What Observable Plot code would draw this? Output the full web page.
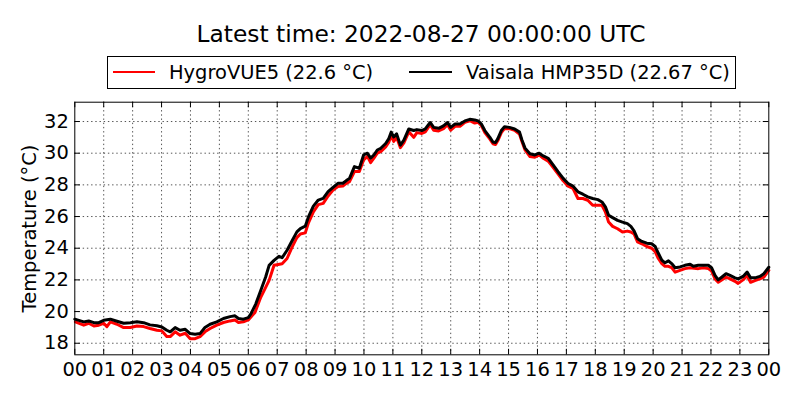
<!DOCTYPE html>
<html>
<head>
<meta charset="utf-8">
<script src="https://cdn.jsdelivr.net/npm/d3@7"></script>
<script src="https://cdn.jsdelivr.net/npm/@observablehq/plot@0.6"></script>
<style>
  html, body { margin: 0; padding: 0; background: white; }
  #wrap { position: relative; width: 800px; height: 400px; font-family: "DejaVu Sans", sans-serif; color: black; }
  #wrap svg { position: absolute; left: 0; top: 0; }
  .ov { position: absolute; white-space: nowrap; line-height: 1; }
</style>
</head>
<body>
<div id="wrap"></div>
<script>
// ---- Data ----
const titleText = "Latest time: 2022-08-27 00:00:00 UTC";
const seriesNames = ["HygroVUE5 (22.6 °C)", "Vaisala HMP35D (22.67 °C)"];
const seriesColors = ["red", "black"];
const yLabel = "Temperature (°C)";
const xTickValues = [0,1,2,3,4,5,6,7,8,9,10,11,12,13,14,15,16,17,18,19,20,21,22,23,24];
const xTickLabels = ["00","01","02","03","04","05","06","07","08","09","10","11","12","13","14","15","16","17","18","19","20","21","22","23","00"];
const yTickValues = [18,20,22,24,26,28,30,32];

// Vaisala HMP35D (black)
const vaisalaHours = [0.00,0.31,0.48,0.66,0.83,1.00,1.23,1.46,1.69,1.92,2.15,2.38,2.60,2.84,3.01,3.18,3.30,3.47,3.64,3.82,3.99,4.16,4.33,4.50,4.68,4.91,5.14,5.37,5.54,5.66,5.83,6.00,
 6.09,6.26,6.43,6.60,6.72,6.89,7.06,7.17,7.34,7.51,7.68,7.80,7.97,8.08,8.25,8.42,8.59,8.76,8.93,9.10,9.27,9.39,9.50,9.67,9.84,9.99,
 10.12,10.23,10.35,10.46,10.58,10.75,10.86,10.94,11.03,11.13,11.26,11.38,11.55,11.72,11.83,12.00,12.12,12.29,12.41,12.58,12.75,12.89,13.00,13.15,13.32,13.49,13.66,13.83,13.95,
 14.06,14.18,14.35,14.46,14.55,14.63,14.75,14.86,15.03,15.21,15.38,15.46,15.57,15.74,15.91,16.06,16.20,16.37,16.54,16.71,16.89,17.06,17.23,17.40,17.57,17.74,17.91,
 18.09,18.23,18.35,18.46,18.60,18.77,18.94,19.11,19.23,19.34,19.46,19.61,19.78,19.95,20.07,20.18,20.30,20.41,20.53,20.64,20.76,20.93,21.10,21.28,21.39,21.56,21.74,21.91,
 22.02,22.14,22.25,22.37,22.52,22.66,22.83,22.94,23.11,23.25,23.37,23.52,23.69,23.83,24.00];
const vaisalaTemps = [19.52,19.35,19.41,19.30,19.30,19.45,19.52,19.39,19.26,19.30,19.35,19.30,19.16,19.10,19.03,18.82,18.72,18.99,18.82,18.88,18.61,18.57,18.61,18.99,19.20,19.35,19.56,19.68,19.73,19.56,19.52,19.62,
 19.85,20.49,21.33,22.18,22.92,23.23,23.49,23.40,23.87,24.46,25.03,25.24,25.39,25.98,26.66,27.04,27.15,27.57,27.84,28.10,28.10,28.27,28.41,29.15,29.05,29.90,
 30.00,29.69,29.90,30.20,30.31,30.61,30.92,31.33,31.02,31.22,30.51,30.82,31.53,31.43,31.49,31.43,31.53,31.94,31.63,31.57,31.73,31.94,31.63,31.84,31.84,32.04,32.14,32.10,32.04,
 31.84,31.43,31.02,30.71,30.67,30.92,31.43,31.67,31.63,31.53,31.33,30.85,30.32,29.96,29.89,30.00,29.83,29.68,29.26,28.83,28.41,28.09,27.92,27.56,27.41,27.24,27.14,
 27.07,26.92,26.61,26.08,25.93,25.76,25.65,25.55,25.38,25.10,24.60,24.43,24.32,24.28,24.11,23.68,23.25,23.08,23.20,23.03,22.77,22.82,22.92,22.99,22.86,22.92,22.92,22.92,
 22.77,22.28,22.00,22.17,22.39,22.28,22.13,22.06,22.22,22.49,22.13,22.13,22.22,22.39,22.80];

// HygroVUE5 (red)
const hygroHours = [0.02,0.31,0.48,0.66,0.83,1.00,1.11,1.23,1.46,1.69,1.92,2.15,2.38,2.60,2.84,3.01,3.18,3.30,3.47,3.64,3.82,3.99,4.16,4.33,4.50,4.68,4.91,5.14,5.37,5.54,5.66,5.83,6.00,6.23,
 6.43,6.72,6.89,7.17,7.34,7.51,7.68,7.80,7.97,8.08,8.25,8.42,8.59,8.76,8.93,9.10,9.27,9.39,9.50,9.67,9.84,9.99,
 10.12,10.23,10.35,10.46,10.58,10.75,10.86,10.94,11.03,11.13,11.26,11.38,11.55,11.72,11.83,12.00,12.12,12.29,12.41,12.58,12.75,12.89,13.00,13.15,13.32,13.49,13.66,13.83,13.95,
 14.06,14.18,14.35,14.46,14.55,14.63,14.75,14.86,15.03,15.21,15.38,15.46,15.57,15.74,15.91,16.06,16.20,16.37,16.54,16.71,16.89,17.06,17.23,17.40,17.57,17.74,17.91,
 18.09,18.23,18.35,18.46,18.60,18.77,18.94,19.11,19.23,19.34,19.46,19.61,19.78,19.95,20.07,20.18,20.30,20.41,20.53,20.64,20.76,20.93,21.10,21.28,21.56,21.74,21.91,
 22.02,22.14,22.25,22.37,22.52,22.66,22.83,22.94,23.11,23.25,23.37,23.52,23.69,23.83,24.00];
const hygroTemps = [19.35,19.14,19.26,19.09,19.14,19.26,19.05,19.35,19.20,18.99,18.99,19.09,19.05,18.93,18.82,18.78,18.42,18.42,18.72,18.51,18.63,18.29,18.29,18.42,18.72,18.93,19.14,19.31,19.41,19.47,19.31,19.35,19.47,19.94,
 20.90,21.97,22.92,23.02,23.35,24.05,24.67,24.90,24.97,25.60,26.30,26.75,26.83,27.30,27.67,27.90,27.93,28.10,28.20,28.84,28.85,29.58,
 29.80,29.40,29.70,30.00,30.10,30.40,30.70,31.10,30.75,31.00,30.35,30.65,31.35,31.00,31.30,31.25,31.35,31.80,31.45,31.40,31.55,31.80,31.45,31.70,31.70,31.95,32.05,31.90,31.95,
 31.75,31.30,30.90,30.60,30.55,30.80,31.30,31.55,31.55,31.45,31.20,30.75,30.21,29.79,29.75,29.89,29.68,29.50,29.11,28.70,28.26,27.92,27.77,27.14,27.14,27.03,26.71,
 26.71,26.71,26.29,25.65,25.38,25.23,25.02,25.08,25.02,24.90,24.40,24.28,24.11,24.00,23.78,23.35,23.03,22.86,22.86,22.77,22.49,22.60,22.71,22.77,22.71,22.77,22.71,
 22.56,22.06,21.85,22.00,22.17,22.06,21.91,21.78,22.00,22.28,21.85,21.96,22.06,22.17,22.60];

// ---- Layout ----
const W = 800, H = 400;
const mL = 74.3, mR = 31.7, mT = 101.7, mB = 45.7;
const innerW = W - mL - mR, innerH = H - mT - mB;
const tickLen = 5.5;
const fs = 19.44;
const gridStyle = {stroke: "black", strokeOpacity: 0.85, strokeWidth: 0.8, strokeDasharray: "1.4,2.8"};

const chart = Plot.plot({
  width: W, height: H,
  marginLeft: mL, marginRight: mR, marginTop: mT, marginBottom: mB,
  style: {fontFamily: "DejaVu Sans", fontSize: fs + "px", background: "transparent", color: "black", overflow: "visible"},
  x: {domain: [0, 24]},
  y: {domain: [17.27, 33.22]},
  marks: [
    Plot.gridX(xTickValues.slice(1, -1), gridStyle),
    Plot.gridY(yTickValues, gridStyle),
    Plot.line(hygroHours, {x: hygroHours, y: hygroTemps, stroke: seriesColors[0], strokeWidth: 3, strokeLinejoin: "round"}),
    Plot.line(vaisalaHours, {x: vaisalaHours, y: vaisalaTemps, stroke: seriesColors[1], strokeWidth: 3, strokeLinejoin: "round"}),
    Plot.tickX(xTickValues, {x: d => d, insetTop: innerH - tickLen, stroke: "black", strokeWidth: 1}),
    Plot.tickX(xTickValues, {x: d => d, insetBottom: innerH - tickLen, stroke: "black", strokeWidth: 1}),
    Plot.tickY(yTickValues, {y: d => d, insetRight: innerW - tickLen, stroke: "black", strokeWidth: 1}),
    Plot.tickY(yTickValues, {y: d => d, insetLeft: innerW - tickLen, stroke: "black", strokeWidth: 1}),
    Plot.axisX(xTickValues, {tickSize: 0, tickPadding: 7.5, label: null, fontSize: fs, fill: "black",
      tickFormat: d => xTickLabels[xTickValues.indexOf(d)]}),
    Plot.axisY(yTickValues, {tickSize: 0, tickPadding: 6, label: null, fontSize: fs, fill: "black"}),
    Plot.text([yLabel], {frameAnchor: "left", textAnchor: "middle", dx: -45.5, rotate: -90, fontSize: fs, fill: "black", text: d => d}),
    Plot.frame({stroke: "black", strokeWidth: 1})
  ]
});

const wrap = document.getElementById("wrap");
wrap.appendChild(chart);

// Title
const title = document.createElement("div");
title.className = "ov";
title.textContent = titleText;
Object.assign(title.style, {left: "0px", width: "842px", textAlign: "center", top: "23.3px", fontSize: "23.33px"});
wrap.appendChild(title);

// Legend
const box = document.createElement("div");
box.className = "ov";
Object.assign(box.style, {left: "107px", top: "56px", width: "629px", height: "33px", boxSizing: "border-box",
  border: "1px solid black", background: "white"});
wrap.appendChild(box);

const legendItems = [
  {swX: 113, swW: 42, txX: 169},
  {swX: 409, swW: 43, txX: 466}
];
legendItems.forEach((it, i) => {
  const sw = document.createElement("div");
  sw.className = "ov";
  Object.assign(sw.style, {left: it.swX + "px", top: "70.6px", width: it.swW + "px", height: "2.8px", background: seriesColors[i]});
  wrap.appendChild(sw);
  const tx = document.createElement("div");
  tx.className = "ov";
  tx.textContent = seriesNames[i];
  Object.assign(tx.style, {left: it.txX + "px", top: "62.6px", fontSize: fs + "px"});
  wrap.appendChild(tx);
});
</script>
</body>
</html>
